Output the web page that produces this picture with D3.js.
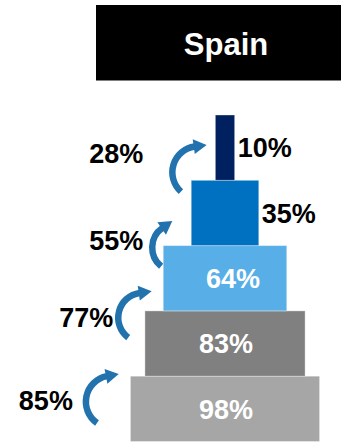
<!DOCTYPE html>
<html>
<head>
<meta charset="utf-8">
<script src="https://cdn.jsdelivr.net/npm/d3@7/dist/d3.min.js"></script>
<style>
  html, body { margin: 0; padding: 0; background: #fff; }
  svg { display: block; }
  text { font-family: "Liberation Sans", Arial, sans-serif; font-weight: bold; }
</style>
</head>
<body>
<div id="chart"></div>
<script>
// ---- data ----
const title = "Spain";
const stages = ["Stage 1", "Stage 2", "Stage 3", "Stage 4", "Stage 5"]; // bottom -> top
const stageValues = [98, 83, 64, 35, 10];      // % shown on each bar
const conversionRates = [85, 77, 55, 28];      // % between consecutive stages
const colors = ["#a6a6a6", "#808080", "#58aee7", "#0070c0", "#002060"];

// ---- layout ----
(function () {
const W = 341, H = 443;
const cx = 225;
const svg = d3.select("#chart").append("svg").attr("width", W).attr("height", H);

// title box
svg.append("rect").attr("x", 96).attr("y", 5).attr("width", 245).attr("height", 75.5).attr("fill", "#000");
svg.append("text").attr("x", 226).attr("y", 55).attr("text-anchor", "middle")
  .attr("fill", "#fff").attr("font-size", 31).text(title);

const xw = d3.scaleLinear().domain([0, 100]).range([0, 193]);
const y = d3.scaleBand().domain(stages).range([441.5, 115]).paddingInner(0).paddingOuter(0);
const bw = y.bandwidth();

const data = stages.map((s, i) => ({ stage: s, value: stageValues[i], color: colors[i] }));

svg.append("g").selectAll("rect").data(data).join("rect")
  .attr("x", d => cx - xw(d.value) / 2)
  .attr("y", d => y(d.stage))
  .attr("width", d => xw(d.value))
  .attr("height", bw)
  .attr("fill", d => d.color)
  .attr("stroke", "#ffffff").attr("stroke-opacity", 0.35).attr("stroke-width", 1);

// value labels
svg.append("g").selectAll("text").data(data).join("text")
  .attr("x", d => d.value >= 50 ? cx + (d.value < 70 ? 8 : 1) : cx + xw(d.value) / 2 + 3)
  .attr("y", d => y(d.stage) + bw / 2)
  .attr("dy", "0.36em")
  .attr("text-anchor", d => d.value >= 50 ? "middle" : "start")
  .attr("font-size", 27)
  .attr("fill", d => d.value >= 50 ? "#fff" : "#000")
  .text(d => d.value + "%");

// conversion arrows (layout relative to upper bar's left edge and lower bar's top)
const arrowLayout = [
  { dx: -33, dy: 25.5, r: 26, a0: 125, a1: 259, lx: -39, ly: -1 },
  { dx: -20, dy: 6.8,  r: 25, a0: 127, a1: 262, lx: -30, ly: 0 },
  { dx: -15, dy: 2,    r: 24, a0: 129, a1: 235, lx: -33, ly: -7 },
  { dx: -17, dy: -8,   r: 26, a0: 132, a1: 262, lx: -55, ly: -19 }
];
const arrowColor = "#2272ae";
const gA = svg.append("g");
conversionRates.forEach((rate, i) => {
  const lower = data[i], upper = data[i + 1];
  const L = arrowLayout[i];
  const acx = cx - xw(upper.value) / 2 + L.dx;
  const acy = y(lower.stage) + L.dy;
  const rad = a => a * Math.PI / 180;
  const p = a => [acx + L.r * Math.cos(rad(a)), acy + L.r * Math.sin(rad(a))];
  const [x0, y0] = p(L.a0), [x1, y1] = p(L.a1);
  gA.append("path")
    .attr("d", `M${x0},${y0} A${L.r},${L.r} 0 0 1 ${x1},${y1}`)
    .attr("fill", "none").attr("stroke", arrowColor).attr("stroke-width", 6.5);
  const tx = -Math.sin(rad(L.a1)), ty = Math.cos(rad(L.a1));
  const nx = -ty, ny = tx;
  const len = 12, half = 7.5;
  const tip = [x1 + tx * len, y1 + ty * len];
  const b1 = [x1 + nx * half - tx * 1, y1 + ny * half - ty * 1];
  const b2 = [x1 - nx * half - tx * 1, y1 - ny * half - ty * 1];
  gA.append("path").attr("d", `M${tip}L${b1}L${b2}Z`).attr("fill", arrowColor);
  svg.append("text")
    .attr("x", acx + L.lx).attr("y", acy + L.ly)
    .attr("dy", "0.36em").attr("text-anchor", "end")
    .attr("font-size", 27).attr("fill", "#000")
    .text(rate + "%");
});
})();
</script>
</body>
</html>
